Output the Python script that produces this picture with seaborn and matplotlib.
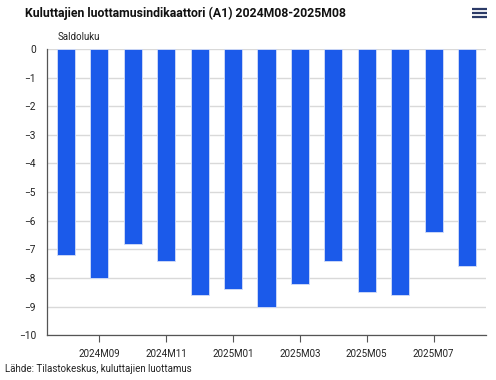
import matplotlib
matplotlib.use("Agg")
import matplotlib.pyplot as plt
from matplotlib.lines import Line2D
import pandas as pd
import seaborn as sns

# Data
kuukaudet = ["2024M08", "2024M09", "2024M10", "2024M11", "2024M12",
             "2025M01", "2025M02", "2025M03", "2025M04", "2025M05",
             "2025M06", "2025M07", "2025M08"]
saldoluku = [-7.2, -8.0, -6.8, -7.4, -8.6, -8.4, -9.0, -8.2, -7.4, -8.5,
             -8.6, -6.4, -7.6]
nakyvat_tikit = ["2024M09", "2024M11", "2025M01", "2025M03", "2025M05", "2025M07"]
y_tikit = list(range(0, -11, -1))

df = pd.DataFrame({"kuukausi": kuukaudet, "arvo": saldoluku})

sns.set_theme(style="white")
plt.rcParams["font.family"] = ["Roboto", "DejaVu Sans"]
plt.rcParams["axes.unicode_minus"] = True

fig = plt.figure(figsize=(4.96, 3.8), dpi=100)
ax = fig.add_axes([0.0948, 0.118, 0.885, 0.753])

sns.barplot(data=df, x="kuukausi", y="arvo", order=kuukaudet, color="#1b5aea",
            saturation=1, width=0.54, edgecolor="#d4def8", linewidth=0.6, ax=ax, zorder=3)

ax.set_ylim(-10, 0)
ax.set_yticks(y_tikit)
ax.set_xlim(-0.57, len(kuukaudet) - 0.43)
ax.set_xticks([kuukaudet.index(k) for k in nakyvat_tikit])
ax.set_xticklabels(nakyvat_tikit)
ax.set_xlabel("")
ax.set_ylabel("")

ax.grid(axis="y", color="#d9d9d9", linewidth=1, zorder=0)
ax.grid(axis="x", visible=False)
for s in ["top", "right"]:
    ax.spines[s].set_visible(False)
for s in ["left", "bottom"]:
    ax.spines[s].set_color("#555555")
    ax.spines[s].set_linewidth(0.9)

ax.tick_params(axis="x", length=5, width=0.8, color="#555555", labelsize=7,
               labelcolor="#222222", pad=5, bottom=True)
ax.tick_params(axis="y", length=0, labelsize=7.3, labelcolor="#222222", pad=8)

fig.text(0.05, 0.966, "Kuluttajien luottamusindikaattori (A1) 2024M08-2025M08",
         fontsize=8.8, fontweight="bold", color="#111111", va="center", ha="left")
fig.text(0.117, 0.903, "Saldoluku", fontsize=7, color="#222222", va="center", ha="left")
fig.text(0.01, 0.029, "Lähde: Tilastokeskus, kuluttajien luottamus",
         fontsize=7, color="#222222", va="center", ha="left")

# valikkokuvake oikeassa yläkulmassa
for yy in [8.5, 12.8, 17.0]:
    yf = 1 - yy / 380
    fig.add_artist(Line2D([472 / 496, 487 / 496], [yf, yf], color="#2b3a67",
                          linewidth=1.6, solid_capstyle="butt"))

fig.savefig("out.png", dpi=100)
